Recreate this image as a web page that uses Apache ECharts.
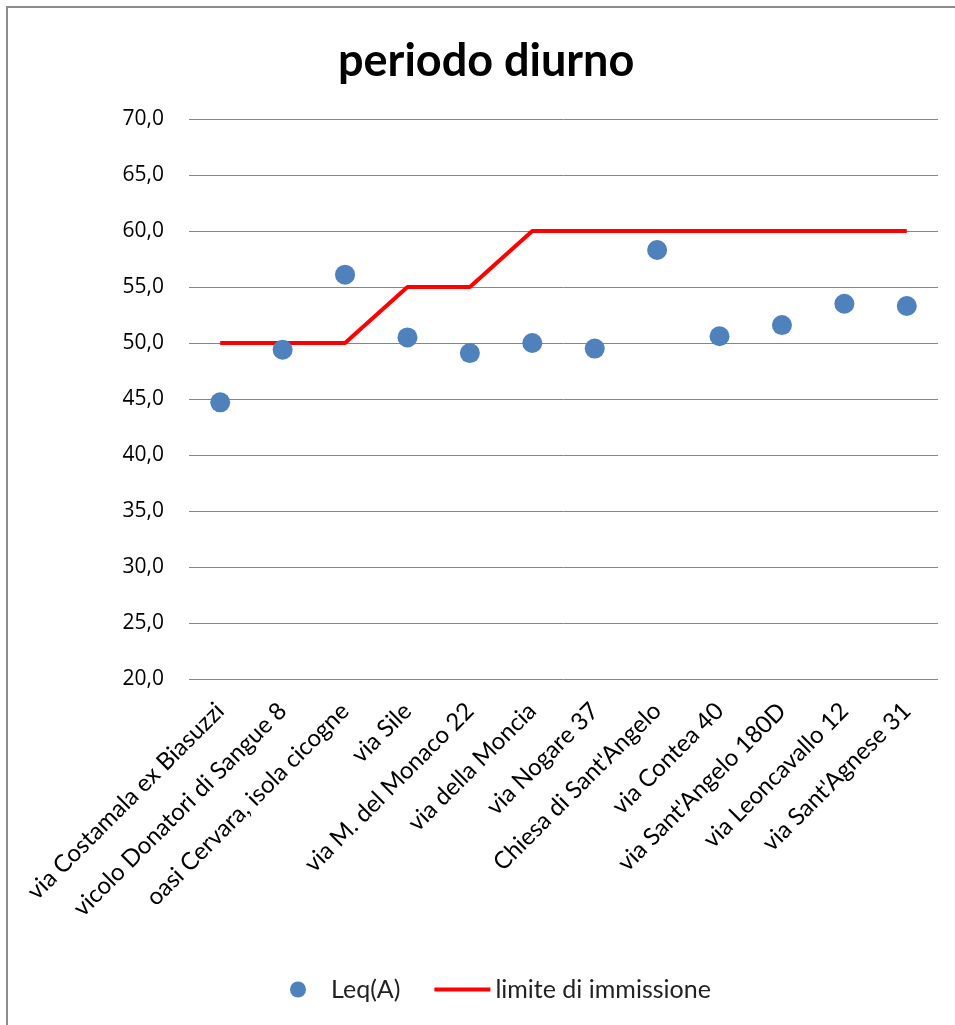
<!DOCTYPE html>
<html>
<head>
    <meta charset="utf-8">
    <title>periodo diurno</title>
    <style>
        body { margin:0; background:#fff; }
        #frame { position:absolute; left:6px; top:6px; width:960px; height:1030px;
                 border-left:2px solid #8c8c8c; border-top:2px solid #8c8c8c; }
        #main { position:absolute; left:0; top:0; width:955px; height:1025px; }
    </style>
</head>
<body>
<div id="frame"></div>
<div id="main"></div>
<script src="https://cdn.jsdelivr.net/npm/echarts@6/dist/echarts.min.js" type="text/javascript"></script>
<script type="text/javascript">

var sites=['via Costamala ex Biasuzzi','vicolo Donatori di Sangue 8','oasi Cervara, isola cicogne',
    'via Sile','via M. del Monaco 22','via della Moncia','via Nogare 37',"Chiesa di Sant'Angelo",
    'via Contea 40',"via Sant'Angelo 180D",'via Leoncavallo 12',"via Sant'Agnese 31"];
var leq=[44.7,49.4,56.1,50.5,49.1,50.0,49.5,58.3,50.6,51.6,53.5,53.3];
var limite=[50,50,50,55,55,60,60,60,60,60,60,60];
var yMin=20, yMax=70, yStep=5;

var myChart=echarts.init(document.getElementById('main'));

var option={
    backgroundColor:'transparent',
    title:{
        text:'periodo diurno',
        left:333, top:34,
        textStyle:{fontFamily:'Lato', fontWeight:'bold', fontSize:45, color:'#000'}
    },
    legend:{
        bottom:18, left:285, itemGap:34,
        textStyle:{fontFamily:'Lato', fontSize:25, color:'#222'},
        data:[
            {name:'Leq(A)', icon:'circle', itemStyle:{color:'#4F81BD'}},
            {name:'limite di immissione', icon:'path://M0,0L56,0L56,4L0,4Z', itemStyle:{color:'#FF0000'}}
        ],
        itemWidth:56, itemHeight:16
    },
    grid:{left:189, right:17, top:119, bottom:346},
    xAxis:{
        type:'category',
        data:sites,
        boundaryGap:true,
        axisLine:{show:false},
        axisTick:{show:false},
        axisLabel:{rotate:45, interval:0, margin:28,
            fontFamily:'Lato', fontSize:24, color:'#000'}
    },
    yAxis:{
        type:'value', min:yMin, max:yMax, interval:yStep,
        axisLine:{show:false},
        axisTick:{show:false},
        splitLine:{lineStyle:{color:'#868686', width:1}},
        axisLabel:{margin:25, fontFamily:'Open Sans', fontSize:21, color:'#000',
            formatter:function(v){return v.toFixed(1).replace('.',',');}}
    },
    series:[{
        name:'Leq(A)',
        type:'scatter',
        data:leq,
        symbolSize:20,
        itemStyle:{color:'#4F81BD', opacity:1},
        z:3
    },{
        name:'limite di immissione',
        type:'line',
        data:limite,
        symbol:'none',
        lineStyle:{color:'#FF0000', width:4},
        itemStyle:{color:'#FF0000'},
        z:2
    }]
};

myChart.setOption(option);
</script>
</body>
</html>
